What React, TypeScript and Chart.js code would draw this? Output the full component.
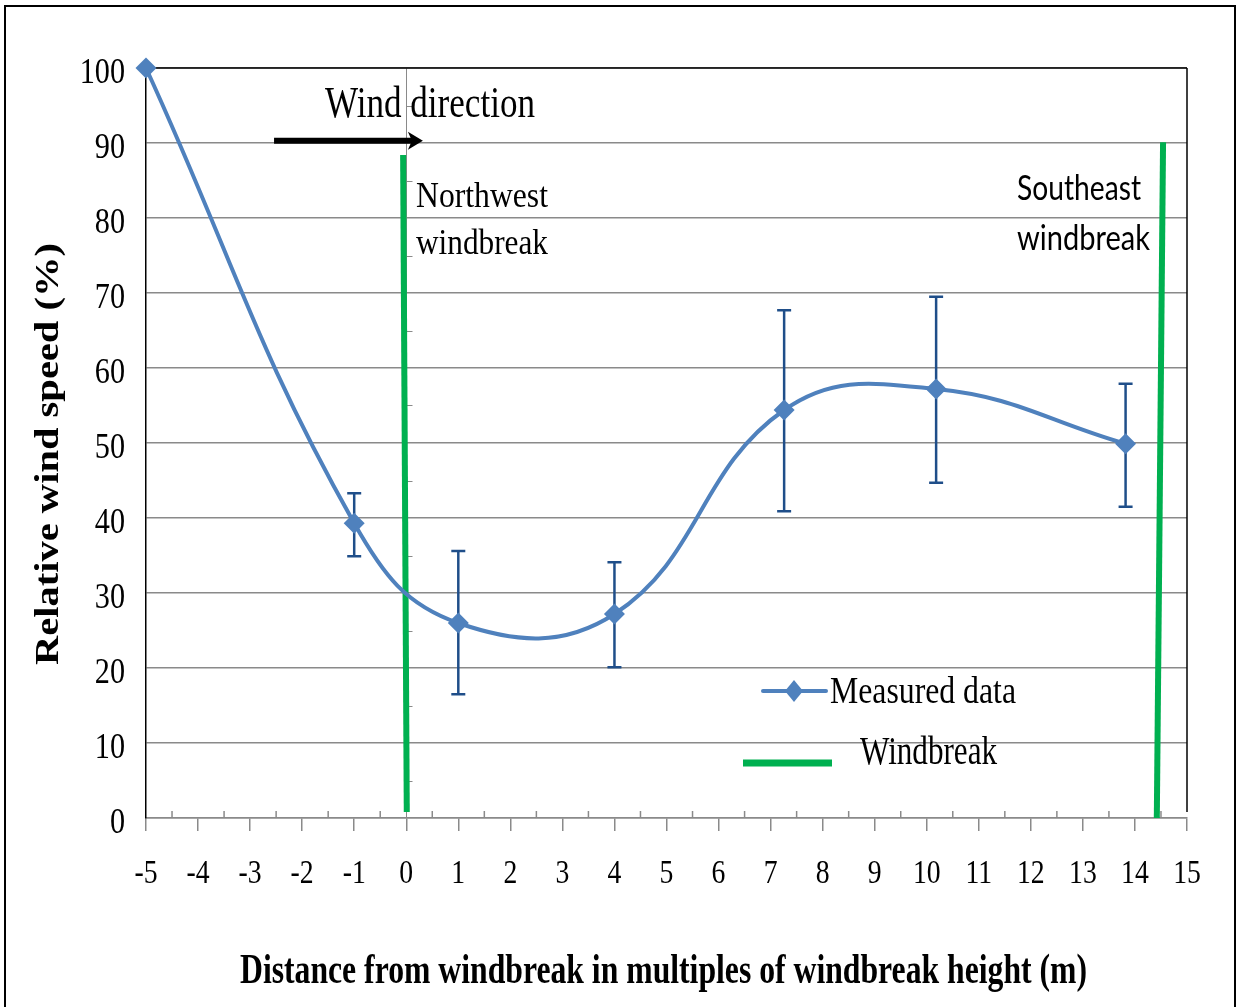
import { useEffect, useRef } from "react";
import { Chart, registerables } from "chart.js";

Chart.register(...registerables);

// ---- data ----
const distances = [-5, -1, 1, 4, 7.26, 10.18, 13.82];
const windSpeed = [100, 39.3, 26.0, 27.2, 54.4, 57.2, 49.9];
const errHigh = [null, 43.3, 35.6, 34.1, 67.7, 69.5, 57.9];
const errLow = [null, 34.9, 16.5, 20.1, 40.9, 44.7, 41.5];

const nwBreakX = [-0.06, 0.01];
const nwBreakY = [88.4, 0.8];
const seBreakX = [14.54, 14.42];
const seBreakY = [90.1, 0];

const xMin = -5;
const xMax = 15;
const yMin = 0;
const yMax = 100;

const arrowFromX = -2.54;
const arrowToX = 0.32;
const arrowY = 90.3;

const xTitle = "Distance from windbreak in multiples of windbreak height (m)";
const yTitle = "Relative wind speed (%)";
const seriesLabel = "Measured data";
const breakLabel = "Windbreak";

const BLUE = "#4F81BD";
const ERR = "#1F4E89";
const GREEN = "#00B050";
const GRID = "#8A8A8A";
const SERIF = '"Liberation Serif", "Times New Roman", serif';
const SANS = 'Lato, "Open Sans", sans-serif';

type TextOpts = {
  size: number;
  family?: string;
  weight?: string;
  width?: number;
  sx?: number;
  align?: CanvasTextAlign;
  rotate?: boolean;
  color?: string;
};

function drawText(ctx: CanvasRenderingContext2D, str: string, x: number, y: number, o: TextOpts) {
  ctx.save();
  ctx.font = `${o.weight || "normal"} ${o.size}px ${o.family || SERIF}`;
  let sx = o.sx ?? 1;
  if (o.width) {
    const w0 = ctx.measureText(str).width;
    sx = o.width / w0;
  }
  ctx.translate(x, y);
  if (o.rotate) ctx.rotate(-Math.PI / 2);
  ctx.scale(sx, 1);
  ctx.textAlign = o.align || "left";
  ctx.textBaseline = "alphabetic";
  ctx.fillStyle = o.color || "#000";
  ctx.fillText(str, 0, 0);
  ctx.restore();
}

function seg(ctx: CanvasRenderingContext2D, x1: number, y1: number, x2: number, y2: number) {
  ctx.beginPath();
  ctx.moveTo(x1, y1);
  ctx.lineTo(x2, y2);
  ctx.stroke();
}

const decoPlugin = {
  id: "deco",
  beforeDatasetsDraw(chart: any) {
    const { ctx, chartArea: a } = chart;
    const xs = chart.scales.x;
    const ys = chart.scales.y;
    ctx.save();
    // secondary axis line at x = 0 with minor ticks
    ctx.strokeStyle = GRID;
    ctx.lineWidth = 1;
    const x0 = Math.round(xs.getPixelForValue(0)) + 0.5;
    seg(ctx, x0, a.top, x0, a.bottom);
    for (let v = 5; v < yMax; v += 10) {
      const py = Math.round(ys.getPixelForValue(v)) + 0.5;
      seg(ctx, x0, py, x0 + 6, py);
    }
    // minor ticks on x axis
    ctx.lineWidth = 1.5;
    for (let v = xMin + 0.5; v < xMax; v += 1) {
      const px = xs.getPixelForValue(v);
      seg(ctx, px, a.bottom, px, a.bottom - 7);
    }
    // plot area border (top and right)
    ctx.strokeStyle = "#000";
    ctx.lineWidth = 1.5;
    seg(ctx, a.left, a.top, a.right, a.top);
    seg(ctx, a.right, a.top, a.right, a.bottom - 6);
    // error bars
    ctx.strokeStyle = ERR;
    ctx.lineWidth = 2.5;
    distances.forEach((d, i) => {
      const hi = errHigh[i];
      const lo = errLow[i];
      if (hi == null || lo == null) return;
      const px = xs.getPixelForValue(d);
      const pHi = ys.getPixelForValue(hi);
      const pLo = ys.getPixelForValue(lo);
      seg(ctx, px, pHi, px, pLo);
      seg(ctx, px - 7, pHi, px + 7, pHi);
      seg(ctx, px - 7, pLo, px + 7, pLo);
    });
    ctx.restore();
  },
  afterDraw(chart: any) {
    const { ctx } = chart;
    const xs = chart.scales.x;
    const ys = chart.scales.y;
    ctx.save();

    // tick labels
    ys.ticks.forEach((t: any) => {
      drawText(ctx, String(t.value), 125, ys.getPixelForValue(t.value) + 15, { size: 36, sx: 0.84, align: "right" });
    });
    xs.ticks.forEach((t: any) => {
      drawText(ctx, String(t.value), xs.getPixelForValue(t.value), 883, { size: 33, sx: 0.84, align: "center" });
    });

    // axis titles
    drawText(ctx, xTitle, (240 + 1087) / 2, 983, { size: 42, weight: "bold", width: 847, align: "center" });
    drawText(ctx, yTitle, 58, 454, { size: 34, weight: "bold", width: 422, align: "center", rotate: true });

    // wind direction arrow
    const ay = ys.getPixelForValue(arrowY);
    const ax1 = xs.getPixelForValue(arrowFromX);
    const ax2 = xs.getPixelForValue(arrowToX);
    ctx.strokeStyle = "#000";
    ctx.lineWidth = 6;
    seg(ctx, ax1, ay, ax2 - 10, ay);
    ctx.fillStyle = "#000";
    ctx.beginPath();
    ctx.moveTo(ax2, ay);
    ctx.lineTo(ax2 - 15, ay - 9);
    ctx.lineTo(ax2 - 11, ay);
    ctx.lineTo(ax2 - 15, ay + 9);
    ctx.closePath();
    ctx.fill();
    drawText(ctx, "Wind direction", 325, 117, { size: 44, width: 210 });

    // windbreak labels
    drawText(ctx, "Northwest", 416, 207, { size: 36, width: 132 });
    drawText(ctx, "windbreak", 416, 254, { size: 36, width: 132 });
    drawText(ctx, "Southeast", 1017, 200, { size: 34, width: 124, family: SANS });
    drawText(ctx, "windbreak", 1017, 250, { size: 34, width: 133, family: SANS });

    // legend
    ctx.strokeStyle = BLUE;
    ctx.lineWidth = 4;
    ctx.lineCap = "round";
    seg(ctx, 763, 691, 826, 691);
    ctx.lineCap = "butt";
    ctx.fillStyle = BLUE;
    ctx.beginPath();
    ctx.moveTo(794, 680);
    ctx.lineTo(803, 691);
    ctx.lineTo(794, 702);
    ctx.lineTo(785, 691);
    ctx.closePath();
    ctx.fill();
    drawText(ctx, seriesLabel, 830, 703, { size: 38, width: 186 });
    ctx.strokeStyle = GREEN;
    ctx.lineWidth = 7;
    seg(ctx, 743, 763, 832, 763);
    drawText(ctx, breakLabel, 860, 764, { size: 40, width: 137 });

    // outer frame
    ctx.strokeStyle = "#000";
    ctx.lineWidth = 2;
    ctx.strokeRect(5, 6, 1230, 1010);
    ctx.restore();
  },
};

export default function App() {
  const ref = useRef<HTMLCanvasElement | null>(null);
  useEffect(() => {
    if (!ref.current) return;
    const chart = new Chart(ref.current, {
      type: "line",
      data: {
        datasets: [
          {
            label: seriesLabel,
            data: distances.map((d, i) => ({ x: d, y: windSpeed[i] })),
            borderColor: BLUE,
            backgroundColor: BLUE,
            borderWidth: 4,
            pointStyle: "rectRot",
            pointRadius: 10.5,
            pointBorderWidth: 0,
            pointBackgroundColor: BLUE,
            tension: 0.42,
            clip: false as any,
          },
          {
            label: breakLabel,
            data: nwBreakX.map((d, i) => ({ x: d, y: nwBreakY[i] })),
            borderColor: GREEN,
            borderWidth: 6,
            pointRadius: 0,
            tension: 0,
          },
          {
            label: breakLabel + " SE",
            data: seBreakX.map((d, i) => ({ x: d, y: seBreakY[i] })),
            borderColor: GREEN,
            borderWidth: 6,
            pointRadius: 0,
            tension: 0,
          },
        ],
      },
      options: {
        animation: false,
        responsive: false,
        maintainAspectRatio: false,
        layout: { padding: { left: 0, right: 51, top: 68, bottom: 0 } },
        plugins: { legend: { display: false }, tooltip: { enabled: false } },
        scales: {
          x: {
            type: "linear",
            min: xMin,
            max: xMax,
            ticks: { stepSize: 1, display: false },
            grid: { display: true, drawOnChartArea: false, drawTicks: true, tickLength: 13, color: GRID, lineWidth: 1.5 },
            border: { display: true, color: GRID, width: 1.5 },
            afterFit: (s: any) => {
              s.height = 189;
            },
          },
          y: {
            type: "linear",
            min: yMin,
            max: yMax,
            ticks: { stepSize: 10, display: false },
            grid: { color: GRID, lineWidth: 1.5, drawTicks: false },
            border: { display: true, color: "#000", width: 1.5 },
            afterFit: (s: any) => {
              s.width = 146;
            },
          },
        },
      } as any,
      plugins: [decoPlugin],
    });
    return () => chart.destroy();
  }, []);
  return (
    <div style={{ position: "absolute", left: 0, top: 0, width: 1238, height: 1007, background: "#fff" }}>
      <canvas ref={ref} width={1238} height={1007} style={{ display: "block" }} />
    </div>
  );
}
